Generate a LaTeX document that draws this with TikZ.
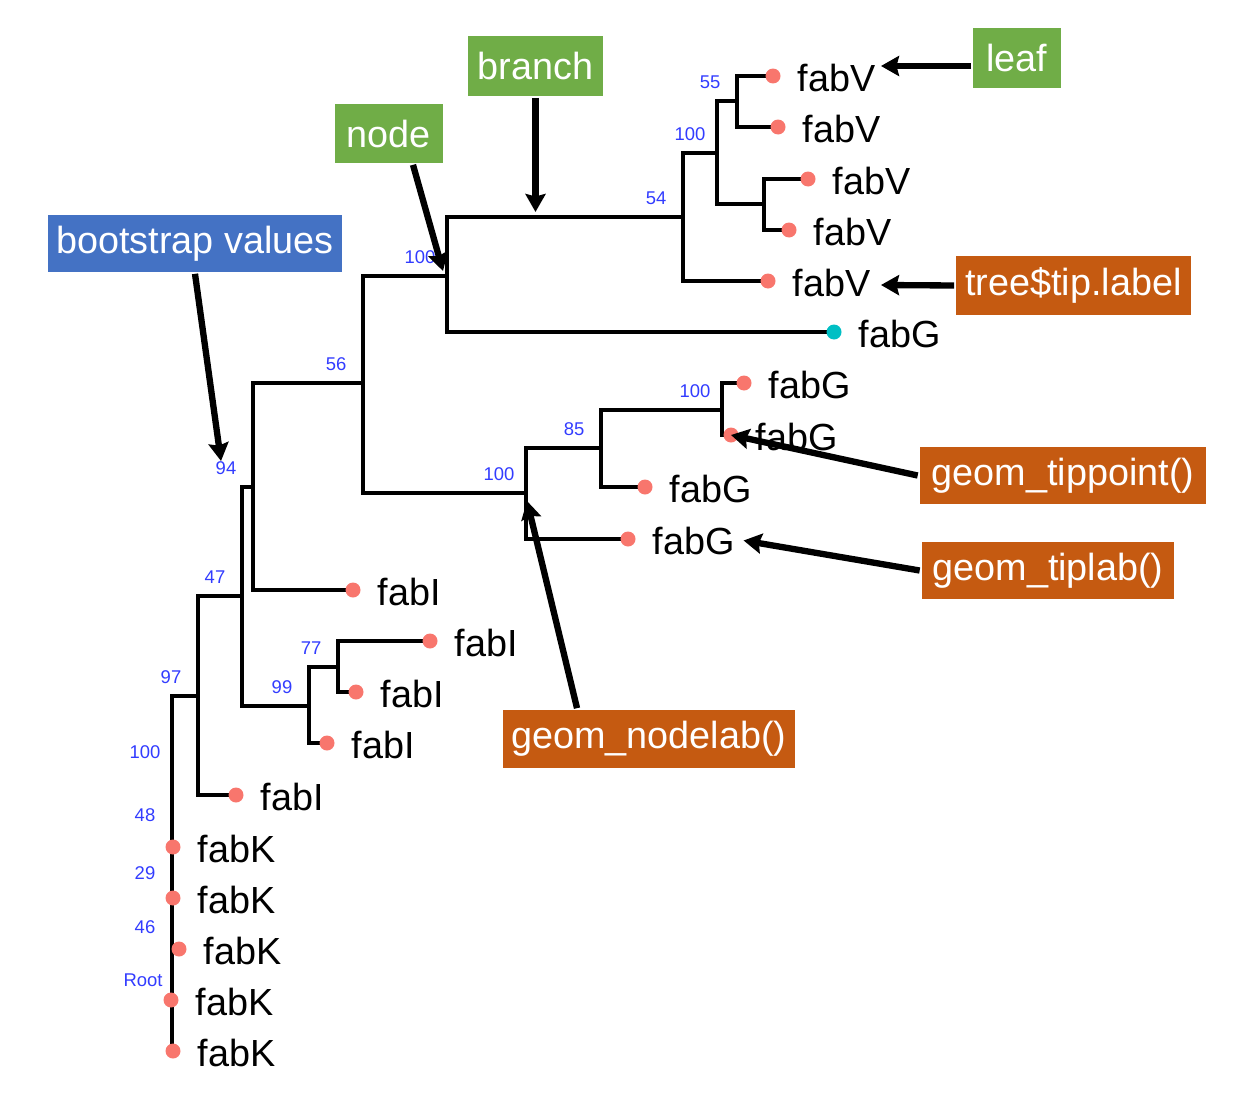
\documentclass[tikz,border=0pt]{standalone}
\usepackage{fontspec}
\setmainfont{Liberation Sans}
\usetikzlibrary{arrows.meta}
\definecolor{tipred}{HTML}{F8766D}
\definecolor{tipteal}{HTML}{00BFC4}
\definecolor{bootblue}{RGB}{50,60,255}
\definecolor{boxblue}{HTML}{4472C4}
\definecolor{boxgreen}{HTML}{70AD47}
\definecolor{boxorange}{HTML}{C55A11}
\tikzstyle{tipdot}=[circle, fill=tipred, inner sep=0pt, minimum size=0.3cm]
\tikzstyle{tipname}=[anchor=west, inner sep=0pt, xshift=0.46cm, yshift=-0.03cm, font=\fontsize{21.5}{24}\selectfont]
\tikzstyle{bootlab}=[text=bootblue, inner sep=0pt, xshift=-0.54cm, yshift=0.38cm, font=\fontsize{10.5}{12}\selectfont]
\tikzstyle{boxlab}=[text=white, inner sep=0pt, font=\fontsize{21.5}{24}\selectfont]
\tikzstyle{annarrow}=[line width=3.6pt, -{Stealth[length=0.36cm, width=0.4cm, inset=0.05cm]}]

\begin{document}
\begin{tikzpicture}[x=0.02cm, y=-0.02cm, line width=2.1pt]
    \useasboundingbox (0,0) rectangle (1237,1102);
    % tips
    \coordinate (t1) at (773,76);
    \coordinate (t2) at (778,127);
    \coordinate (t3) at (808,179);
    \coordinate (t4) at (789,230);
    \coordinate (t5) at (768,281);
    \coordinate (t6) at (834,332);
    \coordinate (t7) at (744,383);
    \coordinate (t8) at (731,435);
    \coordinate (t9) at (645,487);
    \coordinate (t10) at (628,539);
    \coordinate (t11) at (353,590);
    \coordinate (t12) at (430,641);
    \coordinate (t13) at (356,692);
    \coordinate (t14) at (327,743);
    \coordinate (t15) at (236,795);
    \coordinate (t16) at (173,847);
    \coordinate (t17) at (173,898);
    \coordinate (t18) at (179,949);
    \coordinate (t19) at (171,1000);
    \coordinate (t20) at (173,1051);
    % internal nodes
    \coordinate (n55) at (737,101);
    \coordinate (n34) at (764,204);
    \coordinate (n100a) at (717,153);
    \coordinate (n54) at (683,217);
    \coordinate (n100b) at (447,276);
    \coordinate (n100c) at (722,410);
    \coordinate (n85) at (601,448);
    \coordinate (n100d) at (526,493);
    \coordinate (n56) at (363,383);
    \coordinate (n94) at (253,487);
    \coordinate (n77) at (338,667);
    \coordinate (n99) at (309,706);
    \coordinate (n47) at (242,596);
    \coordinate (n97) at (198,696);
    \coordinate (n100e) at (172,771);
    \coordinate (n48) at (172,834);
    \coordinate (n29) at (172,892);
    \coordinate (n46) at (172,946);
    \coordinate (r) at (172,999);
    % branches
    \draw (n55) |- (t1);
    \draw (n55) |- (t2);
    \draw (n34) |- (t3);
    \draw (n34) |- (t4);
    \draw (n100a) |- (n55);
    \draw (n100a) |- (n34);
    \draw (n54) |- (n100a);
    \draw (n54) |- (t5);
    \draw (n100b) |- (n54);
    \draw (n100b) |- (t6);
    \draw (n100c) |- (t7);
    \draw (n100c) |- (t8);
    \draw (n85) |- (n100c);
    \draw (n85) |- (t9);
    \draw (n100d) |- (n85);
    \draw (n100d) |- (t10);
    \draw (n56) |- (n100b);
    \draw (n56) |- (n100d);
    \draw (n94) |- (n56);
    \draw (n94) |- (t11);
    \draw (n77) |- (t12);
    \draw (n77) |- (t13);
    \draw (n99) |- (n77);
    \draw (n99) |- (t14);
    \draw (n47) |- (n94);
    \draw (n47) |- (n99);
    \draw (n97) |- (n47);
    \draw (n97) |- (t15);
    \draw (n100e) |- (n97);
    \draw (n48) |- (n100e);
    \draw (n48) |- (t16);
    \draw (n29) |- (n48);
    \draw (n29) |- (t17);
    \draw (n46) |- (n29);
    \draw (n46) |- (t18);
    \draw (r) |- (n46);
    \draw (r) |- (t19);
    \draw (r) |- (t20);
    % tip points and labels
    \node[tipdot] (d1) at (t1) {};
    \node[tipdot] (d2) at (t2) {};
    \node[tipdot] (d3) at (t3) {};
    \node[tipdot] (d4) at (t4) {};
    \node[tipdot] (d5) at (t5) {};
    \node[tipdot, fill=tipteal] (d6) at (t6) {};
    \node[tipdot] (d7) at (t7) {};
    \node[tipdot] (d8) at (t8) {};
    \node[tipdot] (d9) at (t9) {};
    \node[tipdot] (d10) at (t10) {};
    \node[tipdot] (d11) at (t11) {};
    \node[tipdot] (d12) at (t12) {};
    \node[tipdot] (d13) at (t13) {};
    \node[tipdot] (d14) at (t14) {};
    \node[tipdot] (d15) at (t15) {};
    \node[tipdot] (d16) at (t16) {};
    \node[tipdot] (d17) at (t17) {};
    \node[tipdot] (d18) at (t18) {};
    \node[tipdot] (d19) at (t19) {};
    \node[tipdot] (d20) at (t20) {};
    \node[tipname] (l1) at (t1) {fabV};
    \node[tipname] (l2) at (t2) {fabV};
    \node[tipname] (l3) at (t3) {fabV};
    \node[tipname] (l4) at (t4) {fabV};
    \node[tipname] (l5) at (t5) {fabV};
    \node[tipname] (l6) at (t6) {fabG};
    \node[tipname] (l7) at (t7) {fabG};
    \node[tipname] (l8) at (t8) {fabG};
    \node[tipname] (l9) at (t9) {fabG};
    \node[tipname] (l10) at (t10) {fabG};
    \node[tipname] (l11) at (t11) {fabI};
    \node[tipname] (l12) at (t12) {fabI};
    \node[tipname] (l13) at (t13) {fabI};
    \node[tipname] (l14) at (t14) {fabI};
    \node[tipname] (l15) at (t15) {fabI};
    \node[tipname] (l16) at (t16) {fabK};
    \node[tipname] (l17) at (t17) {fabK};
    \node[tipname] (l18) at (t18) {fabK};
    \node[tipname] (l19) at (t19) {fabK};
    \node[tipname] (l20) at (t20) {fabK};
    % bootstrap values
    \node[bootlab] (b55) at (n55) {55};
    \node[bootlab] (b100a) at (n100a) {100};
    \node[bootlab] (b54) at (n54) {54};
    \node[bootlab] (b100b) at (n100b) {100};
    \node[bootlab] (b56) at (n56) {56};
    \node[bootlab] (b100c) at (n100c) {100};
    \node[bootlab] (b85) at (n85) {85};
    \node[bootlab] (b100d) at (n100d) {100};
    \node[bootlab] (b94) at (n94) {94};
    \node[bootlab] (b47) at (n47) {47};
    \node[bootlab] (b77) at (n77) {77};
    \node[bootlab] (b99) at (n99) {99};
    \node[bootlab] (b97) at (n97) {97};
    \node[bootlab] (b100e) at (n100e) {100};
    \node[bootlab] (b48) at (n48) {48};
    \node[bootlab] (b29) at (n29) {29};
    \node[bootlab] (b46) at (n46) {46};
    \node[bootlab, xshift=-0.04cm] (broot) at (r) {Root};
    % annotation boxes
    \node[boxlab, fill=boxblue, minimum width=5.88cm, minimum height=1.14cm] (bootbox) at (195,243.5) {bootstrap values};
    \node[boxlab, fill=boxgreen, minimum width=2.16cm, minimum height=1.18cm] (nodebox) at (389,133.5) {node};
    \node[boxlab, fill=boxgreen, minimum width=2.7cm, minimum height=1.2cm] (branchbox) at (535.5,66) {branch};
    \node[boxlab, fill=boxgreen, minimum width=1.76cm, minimum height=1.2cm] (leafbox) at (1017,58) {leaf};
    \node[boxlab, fill=boxorange, minimum width=4.7cm, minimum height=1.18cm] (tiplabelbox) at (1073.5,285.5) {tree\$tip.label};
    \node[boxlab, fill=boxorange, minimum width=5.74cm, minimum height=1.14cm] (tippointbox) at (1063,475.5) {geom\_tippoint()};
    \node[boxlab, fill=boxorange, minimum width=5.06cm, minimum height=1.14cm] (tiplabbox) at (1048,570.5) {geom\_tiplab()};
    \node[boxlab, fill=boxorange, minimum width=5.84cm, minimum height=1.16cm] (nodelabbox) at (649,739) {geom\_nodelab()};
    % arrow ends
    \coordinate (bootpt) at (221,461);
    \coordinate (nodept) at (443,271);
    \coordinate (branchpt) at (535.5,212);
    \coordinate (leafpt) at (881,66);
    \coordinate (labelpt) at (881,285);
    \coordinate (nodelabpt) at (527,501);
    \draw[annarrow] (bootbox.south) -- (bootpt);
    \draw[annarrow] ([xshift=0.48cm]nodebox.south) -- (nodept);
    \draw[annarrow] (branchbox.south) -- (branchpt);
    \draw[annarrow] (leafbox.west |- leafpt) -- (leafpt);
    \draw[annarrow] (tiplabelbox.west) -- (labelpt);
    \draw[annarrow] (tippointbox.west) -- (d8.center);
    \draw[annarrow] (tiplabbox.west) -- ([xshift=0.14cm]l10.east);
    \draw[annarrow] ([xshift=-1.44cm]nodelabbox.north) -- (nodelabpt);
\end{tikzpicture}
\end{document}
